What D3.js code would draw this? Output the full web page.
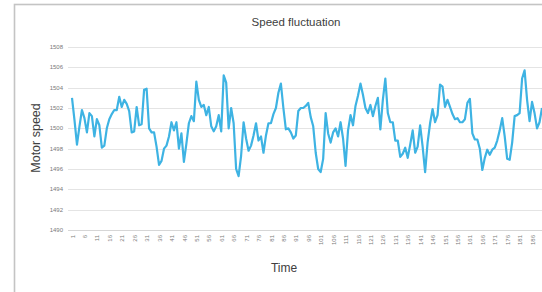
<!DOCTYPE html>
<html>
<head>
<meta charset="utf-8">
<script src="https://cdn.jsdelivr.net/npm/d3@7"></script>
<style>
    body{margin:0;background:#fff;}
    svg{display:block;}
</style>
</head>
<body>
<div id="chart"></div>
<script>

// Motor speed samples (one per time step, 1..189)
const speedValues = [
    1503.0,1500.8,1498.4,1500.2,1501.8,1501.0,1499.6,1501.5,1501.2,1499.2,
    1500.9,1500.3,1498.1,1498.3,1500.0,1500.9,1501.4,1501.8,1501.8,1503.1,
    1502.1,1502.8,1502.4,1501.7,1499.6,1499.7,1502.1,1500.3,1500.4,1503.8,
    1503.9,1500.0,1499.6,1499.6,1498.2,1496.4,1496.8,1498.0,1498.3,1499.2,
    1500.6,1499.8,1500.6,1498.0,1499.5,1496.7,1498.5,1500.5,1501.2,1500.7,
    1504.6,1502.8,1502.1,1502.3,1501.3,1502.1,1500.2,1499.7,1500.2,1501.3,
    1499.7,1505.2,1504.5,1500.0,1502.0,1500.5,1496.0,1495.3,1497.3,1500.6,
    1499.0,1497.8,1498.3,1499.3,1500.5,1498.8,1499.2,1497.6,1499.3,1500.5,
    1500.5,1501.4,1502.0,1503.5,1504.4,1502.0,1499.9,1500.0,1499.6,1499.0,
    1499.3,1501.7,1502.0,1502.0,1502.2,1502.5,1501.1,1500.2,1497.6,1496.0,
    1495.7,1497.0,1501.5,1499.5,1498.6,1499.6,1500.0,1499.2,1500.6,1499.0,
    1496.3,1499.8,1501.3,1500.3,1502.2,1503.2,1504.4,1503.3,1502.0,1501.5,
    1502.3,1501.2,1502.2,1503.0,1499.9,1502.8,1504.9,1501.5,1500.6,1500.6,
    1498.8,1498.8,1497.2,1497.5,1498.1,1497.1,1498.4,1499.8,1497.6,1498.2,
    1500.3,1498.2,1495.7,1498.6,1500.5,1501.9,1500.6,1501.3,1504.3,1504.1,
    1502.1,1502.8,1502.1,1501.4,1500.9,1501.0,1500.6,1500.6,1500.9,1502.5,
    1502.9,1499.5,1498.9,1498.9,1498.0,1495.9,1497.1,1497.9,1497.4,1497.9,
    1498.1,1498.8,1499.8,1501.0,1499.2,1497.0,1496.9,1498.6,1501.2,1501.3,
    1501.5,1504.9,1505.7,1502.8,1500.7,1502.6,1501.5,1500.0,1500.6,1502.0
];

// time steps 1..189
const timeSteps = speedValues.map((d,i) => i + 1);

// x labels shown every 5 steps
const xTickLabels = timeSteps.filter(t => (t - 1) % 5 == 0);

// y ticks
const yTicks = [1490,1492,1494,1496,1498,1500,1502,1504,1506,1508];

const chartTitle = "Speed fluctuation";
const xTitle = "Time";
const yTitle = "Motor speed";

function makeSpeedChart({width = 542, height = 292}){

    let svg = d3.select("#chart").append("svg")
                .attr("width",width)
                .attr("height",height)
                .style("font-family","'Liberation Sans', Arial, sans-serif");

    let margin = {left:72,right:0,top:47,bottom:62};

//#region Scales
    let xScale = d3.scalePoint()
                    .domain(timeSteps)
                    .range([margin.left, width - margin.right]);

    let yScale = d3.scaleLinear()
                    .domain([1490,1508])
                    .range([height - margin.bottom, margin.top]);
//#endregion

    // outer frame (cut off at the right like the reference)
    svg.append("rect")
        .attr("x",14.5)
        .attr("y",4.5)
        .attr("width",width + 20)
        .attr("height",height + 20)
        .attr("fill","none")
        .attr("stroke","#c4c4c4")
        .attr("stroke-width",1.6);

//#region Grid and y axis
    svg.append("g")
        .selectAll("line")
        .data(yTicks)
        .join("line")
        .attr("x1",68)
        .attr("x2",width)
        .attr("y1",d => Math.round(yScale(d)) + 0.5)
        .attr("y2",d => Math.round(yScale(d)) + 0.5)
        .attr("stroke",d => d == 1490 ? "#d6d6d6" : "#e4e4e4")
        .attr("stroke-width",1);

    svg.append("g")
        .selectAll("text")
        .data(yTicks)
        .join("text")
        .attr("x",63)
        .attr("y",d => yScale(d))
        .attr("dy","0.35em")
        .attr("text-anchor","end")
        .attr("font-size",6)
        .attr("fill","#7a7a7a")
        .text(d => d);
//#endregion

//#region x labels
    let xAxis = d3.axisBottom(xScale)
                    .tickValues(xTickLabels)
                    .tickSize(0)
                    .tickPadding(0);

    let xg = svg.append("g")
                .attr("transform","translate(0," + (height - margin.bottom) + ")")
                .call(xAxis);

    xg.select(".domain").remove();

    xg.selectAll("text")
        .attr("transform","translate(0,5)rotate(-90)")
        .attr("x",0)
        .attr("y",0)
        .attr("dy","0.35em")
        .style("text-anchor","end")
        .attr("font-size",6)
        .attr("fill","#7a7a7a")
        .attr("font-family","'Liberation Sans', Arial, sans-serif");
//#endregion

//#region Line
    let lineFunc = d3.line()
                    .x((d,i) => xScale(timeSteps[i]))
                    .y(d => yScale(d));

    svg.append("path")
        .datum(speedValues)
        .attr("d",lineFunc)
        .attr("fill","none")
        .attr("stroke","#3eb3e3")
        .attr("stroke-width",2.2)
        .attr("stroke-linejoin","round");
//#endregion

//#region Titles
    svg.append("text")
        .attr("x",296)
        .attr("y",26)
        .attr("text-anchor","middle")
        .attr("font-size",11.5)
        .attr("fill","#404040")
        .text(chartTitle);

    svg.append("text")
        .attr("x",284)
        .attr("y",272)
        .attr("text-anchor","middle")
        .attr("font-size",12)
        .attr("fill","#404040")
        .text(xTitle);

    svg.append("text")
        .attr("transform","translate(40,138)rotate(-90)")
        .attr("text-anchor","middle")
        .attr("font-size",12.5)
        .attr("fill","#404040")
        .text(yTitle);
//#endregion
}

makeSpeedChart({});
</script>
</body>
</html>
